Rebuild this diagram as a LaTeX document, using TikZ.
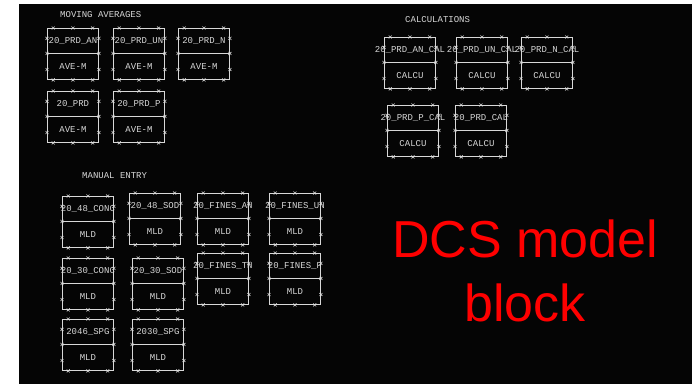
\documentclass[tikz,border=0pt]{standalone}
\usepackage{fontspec}
\setmainfont{Liberation Sans}
\newfontfamily\dcsmono{Liberation Mono}
\usetikzlibrary{calc}
\definecolor{scr}{HTML}{050505}
\definecolor{wire}{HTML}{D8D8D8}
\definecolor{dcsred}{HTML}{FF0000}

\begin{document}
\begin{tikzpicture}[
  x=1pt, y=-1pt,
  blk/.style={draw=wire, line width=0.9pt, minimum width=51pt, minimum height=51pt, inner sep=0pt, anchor=north west},
  tag/.style={font=\dcsmono\fontsize{9}{10}\selectfont, text=wire, inner sep=0pt},
  head/.style={tag, anchor=west},
  tick/.style={wire, line width=0.6pt},
  big/.style={font=\fontsize{52}{64}\selectfont, text=dcsred, inner sep=0pt, anchor=base},
]
\useasboundingbox (0,0) rectangle (698,386);
\fill[scr] (19,4) rectangle (692,384);

% ---- group headings ----
\node[head] (hma)  at (60,15)  {MOVING AVERAGES};
\node[head] (hcal) at (405,20) {CALCULATIONS};
\node[head] (hman) at (82,176) {MANUAL ENTRY};

% ---- function blocks: name/left/top/tag/type ----
\foreach \n/\x/\y/\t/\b in {
  ma1/47/28/20\_PRD\_AN/AVE-M, ma2/113/28/20\_PRD\_UN/AVE-M, ma3/178/28/20\_PRD\_N/AVE-M,
  ma4/47/91/20\_PRD/AVE-M, ma5/113/91/20\_PRD\_P/AVE-M,
  ca1/384/37/20\_PRD\_AN\_CAL/CALCU, ca2/456/37/20\_PRD\_UN\_CAL/CALCU, ca3/521/37/20\_PRD\_N\_CAL/CALCU,
  ca4/387/105/20\_PRD\_P\_CAL/CALCU, ca5/455/105/20\_PRD\_CAL/CALCU,
  me1/62/196/20\_48\_CONC/MLD, me2/129/193/20\_48\_SOD/MLD, me3/197/193/20\_FINES\_AN/MLD, me4/269/193/20\_FINES\_UN/MLD,
  me5/62/258/20\_30\_CONC/MLD, me6/132/258/20\_30\_SOD/MLD, me7/197/253/20\_FINES\_TN/MLD, me8/269/253/20\_FINES\_P/MLD,
  me9/62/319/2046\_SPG/MLD, me10/132/319/2030\_SPG/MLD} {
  \node[blk] (\n) at (\x,\y) {};
  \draw[wire, line width=0.9pt] ($(\n.north west)+(0,25)$) -- ($(\n.north east)+(0,25)$);
  \node[tag] (\n-t) at ($(\n.north)+(0,13)$) {\t};
  \node[tag] (\n-b) at ($(\n.south)+(0,-13)$) {\b};
  % terminal marks round the frame
  \foreach \f in {0.12, 0.5, 0.88} {
    \draw[tick] ($(\n.north west)!\f!(\n.north east)$) +(-1.5,-1.5) -- +(1.5,1.5) +(-1.5,1.5) -- +(1.5,-1.5);
    \draw[tick] ($(\n.south west)!\f!(\n.south east)$) +(-1.5,-1.5) -- +(1.5,1.5) +(-1.5,1.5) -- +(1.5,-1.5);
  }
  \foreach \f in {0.2, 0.49, 0.8} {
    \draw[tick] ($(\n.north west)!\f!(\n.south west)$) +(-1.5,-1.5) -- +(1.5,1.5) +(-1.5,1.5) -- +(1.5,-1.5);
    \draw[tick] ($(\n.north east)!\f!(\n.south east)$) +(-1.5,-1.5) -- +(1.5,1.5) +(-1.5,1.5) -- +(1.5,-1.5);
  }
}

% ---- caption ----
\node[big] (dcs)   at (525,257) {DCS model};
\node[big] (dcsbl) at (525,321) {block};

\end{tikzpicture}
\end{document}
